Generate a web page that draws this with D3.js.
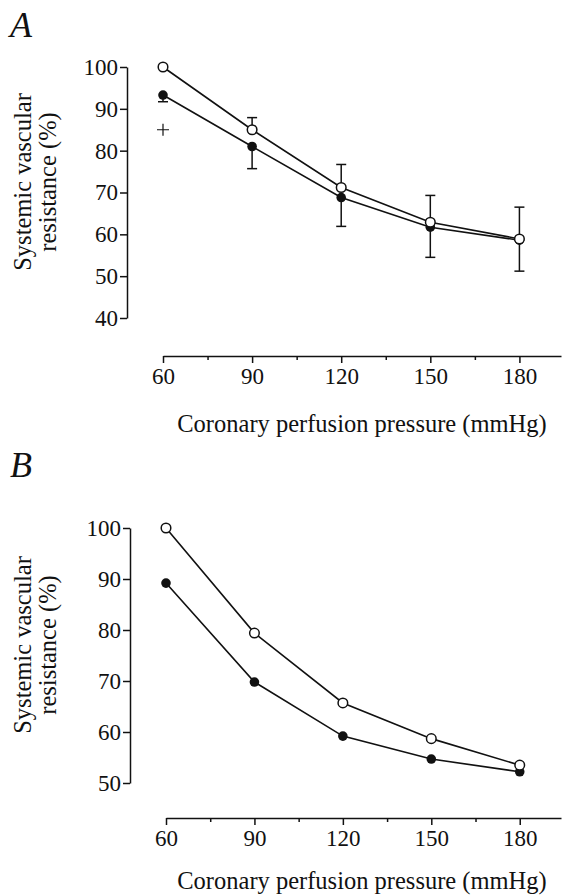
<!DOCTYPE html>
<html>
<head>
<meta charset="utf-8">
<script src="https://cdn.jsdelivr.net/npm/d3@7"></script>
<style>
  body { margin: 0; background: #fff; }
  svg { display: block; }
  text { font-family: "Liberation Serif", "DejaVu Serif", serif; fill: #111; }
  .axis path, .axis line { stroke: #111; stroke-width: 1.5; }
  .axis text { font-size: 23px; font-family: "Liberation Serif", serif; fill: #111; }
</style>
</head>
<body>
<svg id="chart" width="562" height="895"></svg>
<script>
// data
const pressure = [60, 90, 120, 150, 180];
const minorTicks = [75, 105, 135, 165];

// panel A
const aOpen = [100, 85, 71.2, 62.9, 58.9];
const aOpenErr = [0, 2.9, 5.5, 6.4, 7.6];
const aFilled = [93.3, 81, 68.8, 61.7, 58.6];
const aFilledErr = [1.6, 5.3, 6.9, 7.2, 7.4];
const aYTicks = [40, 50, 60, 70, 80, 90, 100];
const aPlus = {pressure: 60, value: 85};

// panel B
const bOpen = [100, 79.4, 65.7, 58.7, 53.5];
const bFilled = [89.2, 69.8, 59.2, 54.7, 52.2];
const bYTicks = [50, 60, 70, 80, 90, 100];

const xTitle = "Coronary perfusion pressure (mmHg)";
const yTitle = ["Systemic vascular", "resistance (%)"];

let svg = d3.select("#chart");

function drawPanel(p) {
    let g = svg.append("g");

    let x = d3.scaleLinear().domain([60, 194]).range([p.x0, 561]);
    let y = d3.scaleLinear().domain(p.yDomain).range([p.yBottom, p.yTop]);

    // y axis
    g.append("g")
        .attr("class", "axis")
        .attr("transform", "translate(" + p.yAxisX + ",0)")
        .call(d3.axisLeft(y).tickValues(p.yTicks).tickSize(7).tickSizeOuter(0).tickPadding(2));

    // x axis, major and minor ticks
    g.append("g")
        .attr("class", "axis")
        .attr("transform", "translate(0," + p.xAxisY + ")")
        .call(d3.axisBottom(x).tickValues(pressure).tickSize(7).tickSizeOuter(0).tickPadding(5));
    g.append("g")
        .attr("class", "axis")
        .attr("transform", "translate(0," + p.xAxisY + ")")
        .call(d3.axisBottom(x).tickValues(minorTicks).tickSize(4).tickSizeOuter(0).tickFormat(""))
        .select(".domain").remove();

    // axis titles
    g.append("text")
        .attr("x", 362)
        .attr("y", p.xTitleY)
        .attr("text-anchor", "middle")
        .style("font-size", "24.5px")
        .text(xTitle);

    yTitle.forEach(function(t, i) {
        g.append("text")
            .attr("transform", "translate(" + (31 + i * 25) + "," + p.yTitleMid + ") rotate(-90)")
            .attr("text-anchor", "middle")
            .style("font-size", "24.5px")
            .text(t);
    });

    // panel letter
    g.append("text")
        .attr("x", 10)
        .attr("y", p.letterY)
        .style("font-size", "36px")
        .style("font-style", "italic")
        .text(p.letter);

    let line = d3.line()
        .x(function(d, i) { return x(pressure[i]); })
        .y(function(d) { return y(d); });

    // error bars: open upward, filled downward
    function errorBars(vals, errs, dir) {
        if (!errs) return;
        vals.forEach(function(v, i) {
            if (errs[i] <= 0) return;
            let cx = x(pressure[i]);
            let ye = y(v + dir * errs[i]);
            g.append("line")
                .attr("x1", cx).attr("x2", cx)
                .attr("y1", y(v)).attr("y2", ye)
                .style("stroke", "#111").style("stroke-width", 1.5);
            g.append("line")
                .attr("x1", cx - 5).attr("x2", cx + 5)
                .attr("y1", ye).attr("y2", ye)
                .style("stroke", "#111").style("stroke-width", 1.5);
        });
    }
    errorBars(p.open, p.openErr, 1);
    errorBars(p.filled, p.filledErr, -1);

    [p.filled, p.open].forEach(function(vals) {
        g.append("path")
            .datum(vals)
            .attr("d", line)
            .style("fill", "none")
            .style("stroke", "#111")
            .style("stroke-width", 1.6);
    });

    g.selectAll(".filled").data(p.filled)
        .enter().append("circle")
        .attr("class", "filled")
        .attr("cx", function(d, i) { return x(pressure[i]); })
        .attr("cy", function(d) { return y(d); })
        .attr("r", 4.8)
        .style("fill", "#111");

    g.selectAll(".open").data(p.open)
        .enter().append("circle")
        .attr("class", "open")
        .attr("cx", function(d, i) { return x(pressure[i]); })
        .attr("cy", function(d) { return y(d); })
        .attr("r", 4.8)
        .style("fill", "#fff")
        .style("stroke", "#111")
        .style("stroke-width", 1.5);

    if (p.plus) {
        let px = x(p.plus.pressure), py = y(p.plus.value);
        g.append("path")
            .attr("d", "M" + (px - 6) + "," + py + "H" + (px + 6) + "M" + px + "," + (py - 6) + "V" + (py + 6))
            .style("stroke", "#111")
            .style("stroke-width", 1.2);
    }
}

drawPanel({
    letter: "A", letterY: 37,
    x0: 163, xAxisY: 356, yAxisX: 127,
    yDomain: [40, 100], yTop: 67, yBottom: 318, yTicks: aYTicks,
    xTitleY: 432, yTitleMid: 182,
    open: aOpen, openErr: aOpenErr, filled: aFilled, filledErr: aFilledErr,
    plus: aPlus
});

drawPanel({
    letter: "B", letterY: 477,
    x0: 166, xAxisY: 818, yAxisX: 130,
    yDomain: [50, 100], yTop: 528, yBottom: 783, yTicks: bYTicks,
    xTitleY: 889, yTitleMid: 645,
    open: bOpen, openErr: null, filled: bFilled, filledErr: null,
    plus: null
});
</script>
</body>
</html>
